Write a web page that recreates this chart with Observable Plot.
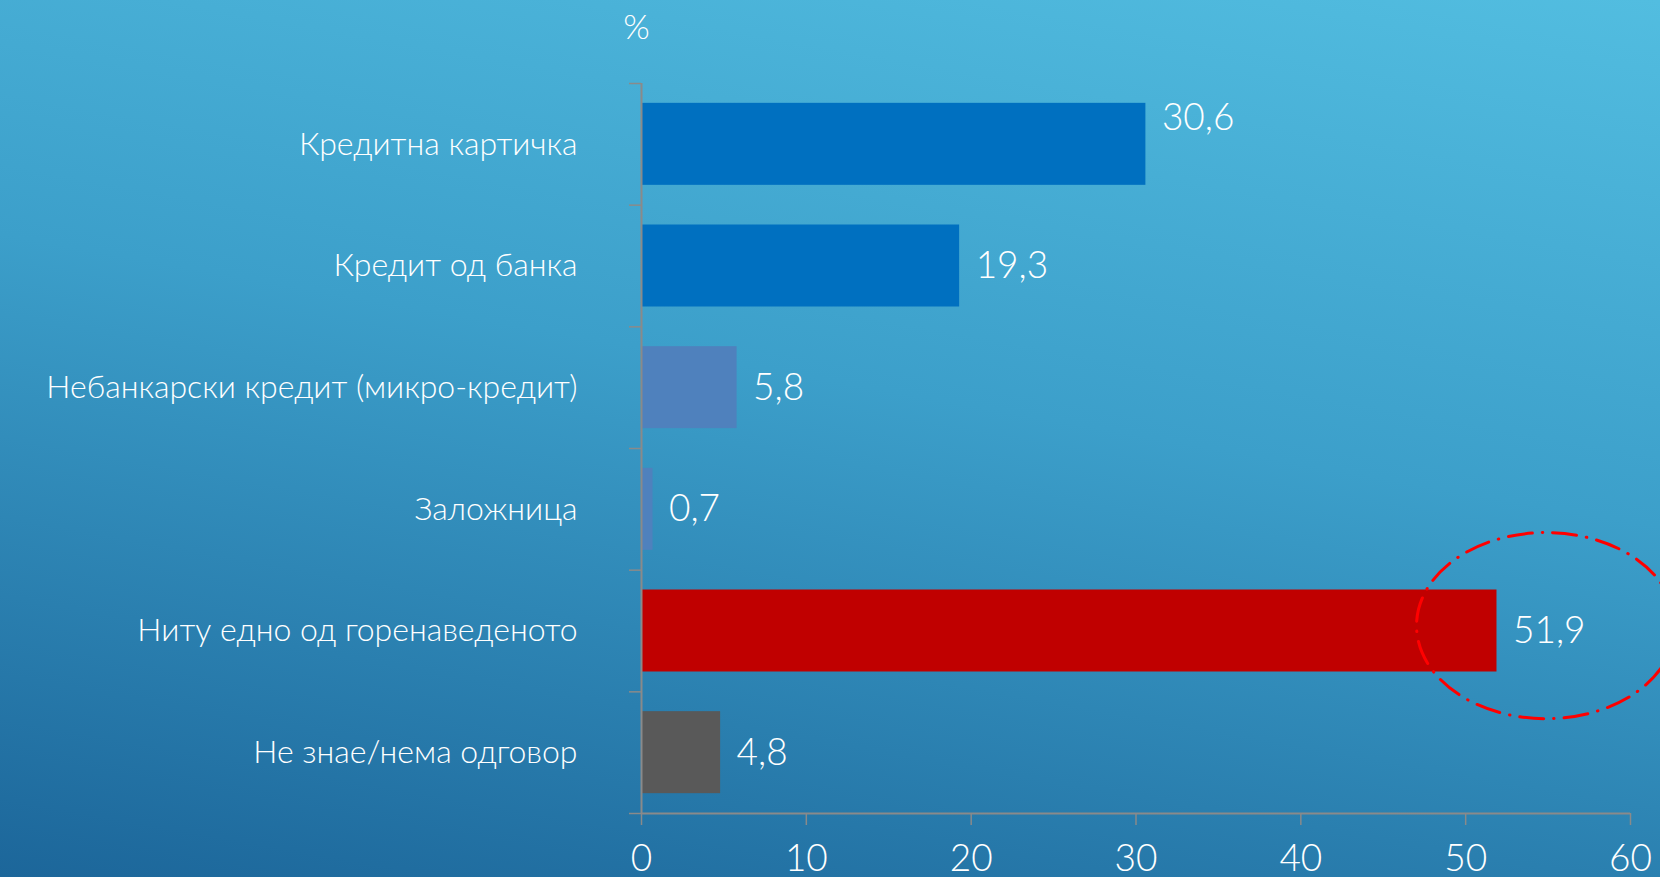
<!DOCTYPE html>
<html><head><meta charset="utf-8">
<script src="https://cdn.jsdelivr.net/npm/d3@7"></script>
<script src="https://cdn.jsdelivr.net/npm/@observablehq/plot@0.6"></script>
<style>
html,body{margin:0;padding:0;width:1660px;height:877px;overflow:hidden;}
body{background:linear-gradient(190deg,#52BDE0 0%,#3C9FCA 45%,#1C669A 100%);}
svg{display:block;}
</style></head><body><div id="chart"></div>
<script>
const categories = [
  "Кредитна картичка",
  "Кредит од банка",
  "Небанкарски кредит (микро-кредит)",
  "Заложница",
  "Ниту едно од горенаведеното",
  "Не знае/нема одговор"
];
const values = [30.6, 19.3, 5.8, 0.7, 51.9, 4.8];
const barColors = ["#0070C0", "#0070C0", "#4F81BD", "#4F81BD", "#C00000", "#595959"];
const xTicks = [0, 10, 20, 30, 40, 50, 60];
const unitLabel = "%";
const highlight = {x: 54.9, y: 4.46, rx: 7.85, ry: 0.765};

const rows = categories.map((c, i) => ({
  cat: c, i, value: values[i], color: barColors[i],
  label: values[i].toFixed(1).replace(".", ",")
}));
const font = "Lato, 'Noto Sans', 'DejaVu Sans', sans-serif";
const axisColor = "#8a8a8a";

const plot = Plot.plot({
  width: 1660,
  height: 877,
  marginLeft: 641,
  marginRight: 30,
  marginTop: 83,
  marginBottom: 64,
  style: {fontFamily: font, background: "transparent", color: "white", overflow: "visible"},
  x: {domain: [0, 60], label: null},
  y: {domain: [0, categories.length], reverse: true, label: null},
  marks: [
    Plot.rectX(rows, {x1: 0, x2: "value", y1: d => d.i + 0.163, y2: d => d.i + 0.837, fill: "color"}),
    Plot.axisY(d3.range(categories.length + 1), {tickSize: 12, tickFormat: () => "", label: null, stroke: axisColor, strokeWidth: 1.5}),
    Plot.ruleX([0], {y1: 0, y2: categories.length, stroke: axisColor, strokeWidth: 2}),
    Plot.ruleY([categories.length], {x1: 0, x2: 60, stroke: axisColor, strokeWidth: 2}),
    Plot.axisX(xTicks, {tickSize: 12, tickPadding: 19, fontSize: 37, label: null, stroke: axisColor, strokeWidth: 1.5, fill: "white", fontWeight: 300}),
    Plot.text(rows, {x: 0, y: d => d.i + 0.5, text: "cat", textAnchor: "end", dx: -64, fontSize: 32, fill: "white", fontWeight: 300}),
    Plot.text(rows.filter(d => d.i !== 0), {x: "value", y: d => d.i + 0.5, text: "label", textAnchor: "start", dx: 16, fontSize: 37, fill: "white", fontWeight: 300}),
    Plot.text(rows.filter(d => d.i === 0), {x: "value", y: d => d.i + 0.5, text: "label", textAnchor: "start", dx: 16, dy: -26, fontSize: 37, fill: "white", fontWeight: 300}),
    Plot.text([unitLabel], {x: 0, y: 0, text: d => d, dx: -5, dy: -55, fontSize: 34, fill: "white", fontWeight: 300})
  ]
});

const xs = plot.scale("x"), ys = plot.scale("y");
d3.select(plot).append("ellipse")
  .attr("cx", xs.apply(highlight.x))
  .attr("cy", ys.apply(highlight.y))
  .attr("rx", xs.apply(highlight.x + highlight.rx) - xs.apply(highlight.x))
  .attr("ry", ys.apply(highlight.y + highlight.ry) - ys.apply(highlight.y))
  .attr("fill", "none")
  .attr("stroke", "#FF0000")
  .attr("stroke-width", 3)
  .attr("stroke-linecap", "round")
  .attr("stroke-dasharray", "24 10 0.5 10");

document.getElementById("chart").appendChild(plot);
</script>
</body></html>
